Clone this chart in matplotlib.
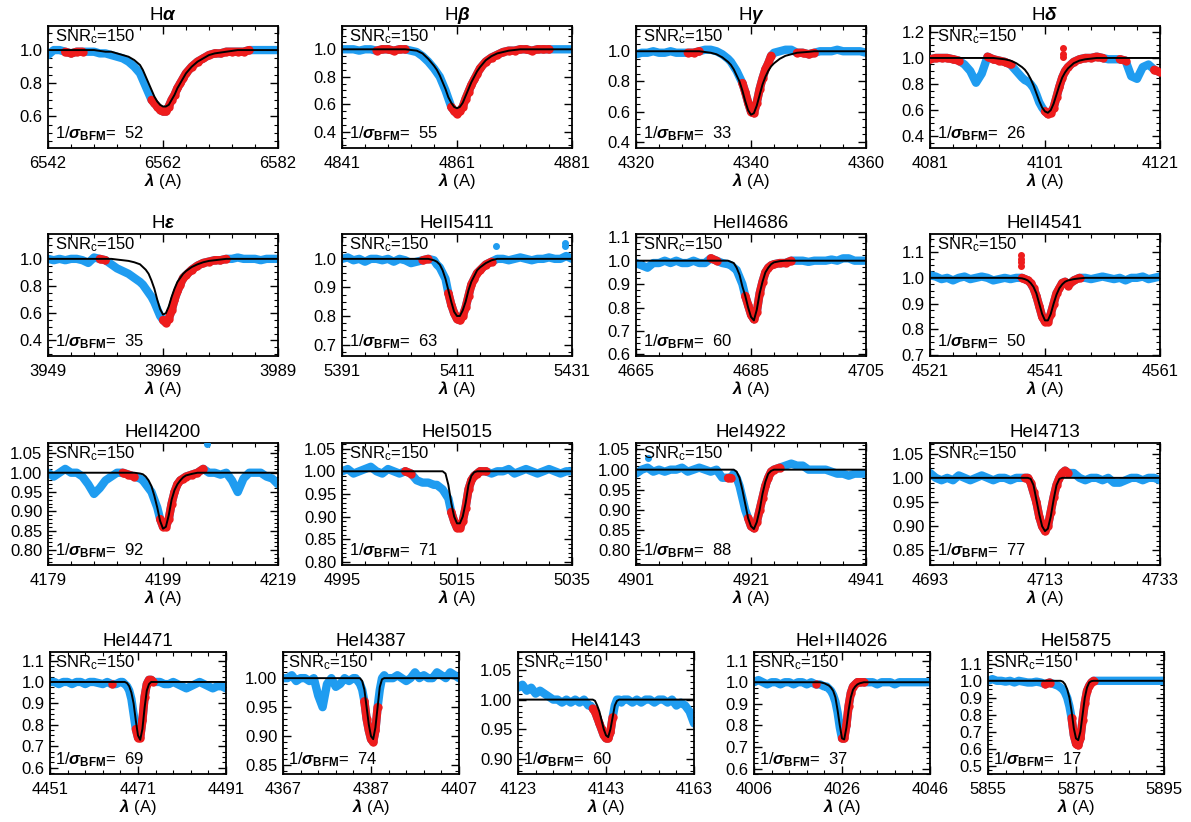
import numpy as np
import matplotlib.pyplot as plt
from matplotlib.ticker import AutoMinorLocator

plt.rcParams['font.family'] = ['Liberation Sans', 'DejaVu Sans']
plt.rcParams['mathtext.fontset'] = 'custom'
plt.rcParams['mathtext.rm'] = 'Liberation Sans'
plt.rcParams['mathtext.it'] = 'Liberation Sans:italic:bold'
plt.rcParams['mathtext.bf'] = 'Liberation Sans:bold'

BLUE = '#1f9cf0'
RED = '#ee1c1c'

# wavelength offsets from the central tick (A): wings 1 A, core 0.5 A
offsets = [-20, -19, -18, -17, -16, -15, -14, -13, -12, -11, -10, -9, -8, -7, -6, -5, -4,
           -3.5, -3, -2.5, -2, -1.5, -1, -0.5, 0, 0.5, 1, 1.5, 2, 2.5, 3, 3.5, 4,
           5, 6, 7, 8, 9, 10, 11, 12, 13, 14, 15, 16, 17, 18, 19, 20]

# ---- Halpha
ha_obs = [0.97, 1.00, 1.00, 0.99, 0.98, 0.99, 0.99, 0.99, 0.99, 0.98, 0.98, 0.97, 0.96, 0.95, 0.93, 0.90, 0.86,
          0.82, 0.78, 0.74, 0.70, 0.68, 0.66, 0.64, 0.63, 0.63, 0.66, 0.70, 0.73, 0.77, 0.80, 0.83, 0.86,
          0.90, 0.93, 0.95, 0.97, 0.98, 0.98, 0.99, 0.99, 0.99, 0.99, 1.00, 1.00, 1.00, 1.00, 1.00, 1.00]
ha_mod = [1.00, 1.00, 1.00, 1.00, 1.00, 1.00, 1.00, 1.00, 1.00, 0.995, 0.99, 0.99, 0.98, 0.97, 0.96, 0.94, 0.91,
          0.88, 0.84, 0.80, 0.76, 0.72, 0.69, 0.67, 0.66, 0.66, 0.67, 0.70, 0.73, 0.77, 0.80, 0.83, 0.86,
          0.90, 0.93, 0.95, 0.97, 0.98, 0.985, 0.99, 0.995, 1.00, 1.00, 1.00, 1.00, 1.00, 1.00, 1.00, 1.00]
ha_red = [(-17.4, -13.6), (-2.0, 15.0)]

# ---- Hbeta
hb_obs = [1.00, 1.00, 1.00, 0.99, 1.00, 1.00, 0.99, 1.00, 1.00, 0.99, 1.00, 1.00, 0.99, 0.98, 0.95, 0.91, 0.86,
          0.83, 0.80, 0.75, 0.70, 0.64, 0.58, 0.55, 0.53, 0.55, 0.58, 0.64, 0.69, 0.74, 0.78, 0.82, 0.86,
          0.91, 0.94, 0.96, 0.98, 0.99, 0.99, 1.00, 1.00, 0.99, 1.00, 1.00, 1.00, 1.00, 1.00, 1.00, 1.00]
hb_mod = [1.00, 1.00, 1.00, 1.00, 1.00, 1.00, 1.00, 1.00, 1.00, 1.00, 1.00, 1.00, 0.995, 0.99, 0.97, 0.93, 0.88,
          0.85, 0.81, 0.76, 0.71, 0.65, 0.61, 0.58, 0.57, 0.58, 0.61, 0.66, 0.71, 0.76, 0.80, 0.84, 0.87,
          0.92, 0.95, 0.97, 0.98, 0.99, 0.995, 1.00, 1.00, 1.00, 1.00, 1.00, 1.00, 1.00, 1.00, 1.00, 1.00]
hb_red = [(-14.9, -8.8), (-1.3, 16.6)]

# ---- Hgamma
hg_obs = [0.98, 0.99, 0.99, 1.00, 0.99, 0.99, 1.00, 0.99, 0.99, 0.99, 0.99, 1.00, 1.01, 1.01, 1.00, 0.98, 0.95,
          0.93, 0.90, 0.87, 0.83, 0.79, 0.73, 0.66, 0.60, 0.59, 0.66, 0.75, 0.82, 0.88, 0.92, 0.97, 0.99,
          1.00, 1.01, 1.01, 0.99, 0.99, 0.98, 0.99, 1.00, 1.00, 1.00, 1.01, 1.00, 1.00, 1.00, 1.00, 0.99]
hg_mod = [1.00, 1.00, 1.00, 1.00, 1.00, 1.00, 1.00, 1.00, 1.00, 1.00, 1.00, 1.00, 0.995, 0.99, 0.98, 0.96, 0.93,
          0.91, 0.88, 0.84, 0.80, 0.74, 0.67, 0.61, 0.58, 0.59, 0.64, 0.71, 0.78, 0.83, 0.87, 0.90, 0.92,
          0.95, 0.97, 0.98, 0.99, 0.993, 0.996, 1.00, 1.00, 1.00, 1.00, 1.00, 1.00, 1.00, 1.00, 1.00, 1.00]
hg_red = [(-11.9, -8.4), (-1.7, 3.5), (7.3, 11.4)]

# ---- Hdelta
hd_obs = [0.99, 1.00, 1.00, 1.00, 0.99, 0.98, 0.95, 0.90, 0.81, 0.88, 1.01, 0.99, 0.98, 0.97, 0.95, 0.90, 0.85,
          0.83, 0.82, 0.80, 0.77, 0.72, 0.66, 0.62, 0.59, 0.57, 0.58, 0.62, 0.70, 0.78, 0.85, 0.90, 0.93,
          0.97, 0.99, 1.00, 1.00, 1.01, 1.00, 0.99, 0.99, 0.99, 0.98, 0.86, 0.84, 0.93, 0.95, 0.91, 0.89]
hd_mod = [1.00, 1.00, 1.00, 1.00, 1.00, 1.00, 1.00, 1.00, 1.00, 1.00, 1.00, 1.00, 0.995, 0.99, 0.98, 0.96, 0.93,
          0.91, 0.88, 0.84, 0.79, 0.73, 0.67, 0.62, 0.59, 0.58, 0.60, 0.65, 0.72, 0.79, 0.85, 0.89, 0.92,
          0.96, 0.98, 0.99, 0.995, 1.00, 1.00, 1.00, 1.00, 1.00, 1.00, 1.00, 1.00, 1.00, 1.00, 1.00, 1.00]
hd_red = [(-20, -14.5), (-10.1, -5.5), (0, 10.8), (12.6, 14.9), (18.4, 20)]
hd_spikes = [(3.1, 1.08), (3.1, 1.03), (3.1, 1.01)]

# ---- Hepsilon
he_obs = [1.00, 0.99, 1.00, 0.99, 1.00, 1.00, 0.99, 0.97, 1.01, 1.00, 0.99, 0.96, 0.93, 0.91, 0.89, 0.86, 0.83,
          0.81, 0.78, 0.75, 0.72, 0.68, 0.63, 0.58, 0.55, 0.53, 0.56, 0.62, 0.70, 0.76, 0.81, 0.86, 0.88,
          0.92, 0.95, 0.97, 0.98, 0.99, 0.99, 1.00, 1.00, 1.01, 1.00, 1.00, 1.00, 0.99, 1.00, 1.00, 1.00]
he_mod = [1.00, 1.00, 1.00, 1.00, 1.00, 1.00, 1.00, 1.00, 1.00, 1.00, 1.00, 1.00, 0.995, 0.99, 0.985, 0.975, 0.96,
          0.94, 0.92, 0.89, 0.84, 0.78, 0.70, 0.63, 0.59, 0.60, 0.65, 0.72, 0.78, 0.83, 0.86, 0.89, 0.91,
          0.94, 0.96, 0.975, 0.985, 0.99, 0.995, 1.00, 1.00, 1.00, 1.00, 1.00, 1.00, 1.00, 1.00, 1.00, 1.00]
he_red = [(-11, -9.3), (-0.3, 11.6)]

# ---- HeII 5411
h5411_obs = [1.00, 1.005, 0.995, 1.00, 0.99, 1.00, 1.00, 0.995, 1.00, 0.99, 1.00, 0.995, 0.985, 0.99, 0.995, 1.00, 0.995,
             0.98, 0.97, 0.95, 0.93, 0.88, 0.84, 0.81, 0.79, 0.785, 0.80, 0.83, 0.87, 0.91, 0.93, 0.95, 0.96,
             0.98, 0.99, 1.00, 1.00, 0.995, 1.00, 1.005, 1.00, 0.995, 1.00, 1.00, 1.005, 1.00, 1.00, 1.01, 1.00]
h5411_mod = [1.00, 1.00, 1.00, 1.00, 1.00, 1.00, 1.00, 1.00, 1.00, 1.00, 1.00, 1.00, 1.00, 1.00, 1.00, 1.00, 0.995,
             0.99, 0.98, 0.96, 0.93, 0.89, 0.85, 0.815, 0.80, 0.80, 0.82, 0.85, 0.89, 0.92, 0.94, 0.96, 0.97,
             0.985, 0.995, 1.00, 1.00, 1.00, 1.00, 1.00, 1.00, 1.00, 1.00, 1.00, 1.00, 1.00, 1.00, 1.00, 1.00]
h5411_red = [(-6.2, -4.2), (-1.9, 6.8)]
h5411_spikes = [(6.8, 1.045), (18.7, 1.055), (18.7, 1.045)]

# ---- HeII 4686
h4686_obs = [0.99, 0.98, 0.97, 0.99, 0.99, 1.00, 0.99, 1.00, 0.99, 0.99, 1.00, 0.99, 0.99, 1.01, 1.00, 0.99, 0.985,
             0.98, 0.97, 0.96, 0.93, 0.90, 0.85, 0.81, 0.77, 0.75, 0.78, 0.86, 0.91, 0.95, 0.97, 0.98, 0.985,
             0.99, 0.99, 1.00, 1.00, 1.00, 0.995, 1.00, 1.00, 1.00, 1.005, 1.00, 1.01, 1.01, 1.00, 1.00, 1.00]
h4686_mod = [1.00, 1.00, 1.00, 1.00, 1.00, 1.00, 1.00, 1.00, 1.00, 1.00, 1.00, 1.00, 1.00, 1.00, 1.00, 1.00, 1.00,
             0.995, 0.99, 0.97, 0.94, 0.89, 0.85, 0.80, 0.76, 0.745, 0.79, 0.86, 0.91, 0.95, 0.97, 0.985, 0.993,
             0.998, 1.00, 1.00, 1.00, 1.00, 1.00, 1.00, 1.00, 1.00, 1.00, 1.00, 1.00, 1.00, 1.00, 1.00, 1.00]
h4686_red = [(-7.4, -5.9), (-1.3, 7.7)]

# ---- HeII 4541
h4541_obs = [1.01, 1.005, 0.995, 1.00, 0.99, 1.00, 1.005, 0.995, 1.00, 1.005, 1.00, 0.99, 0.995, 1.00, 0.995, 1.00, 1.00,
             0.995, 0.99, 0.98, 0.96, 0.93, 0.89, 0.85, 0.83, 0.83, 0.86, 0.90, 0.94, 0.96, 0.98, 0.985, 0.97,
             0.99, 1.00, 1.00, 0.995, 1.00, 1.005, 1.00, 0.995, 1.00, 0.99, 1.00, 1.00, 1.005, 0.995, 1.00, 1.005]
h4541_mod = [1.00, 1.00, 1.00, 1.00, 1.00, 1.00, 1.00, 1.00, 1.00, 1.00, 1.00, 1.00, 1.00, 1.00, 1.00, 1.00, 0.998,
             0.995, 0.99, 0.98, 0.965, 0.94, 0.90, 0.86, 0.835, 0.835, 0.86, 0.90, 0.935, 0.96, 0.975, 0.985, 0.99,
             0.995, 0.998, 1.00, 1.00, 1.00, 1.00, 1.00, 1.00, 1.00, 1.00, 1.00, 1.00, 1.00, 1.00, 1.00, 1.00]
h4541_red = [(-4.6, 6.4)]
h4541_spikes = [(-4.1, 1.09), (-4.1, 1.075), (-4.1, 1.06), (-4.1, 1.045)]

# ---- HeII 4200
h4200_obs = [1.00, 0.99, 1.00, 1.01, 1.00, 1.00, 0.99, 0.97, 0.945, 0.96, 0.98, 0.99, 1.00, 1.00, 0.995, 0.99, 0.985,
             0.98, 0.97, 0.96, 0.95, 0.93, 0.91, 0.88, 0.86, 0.86, 0.88, 0.92, 0.95, 0.97, 0.98, 0.985, 0.99,
             0.995, 1.00, 1.01, 1.00, 1.00, 0.995, 1.00, 0.98, 0.95, 0.985, 1.00, 1.00, 1.00, 0.99, 0.985, 0.97]
h4200_mod = [1.00, 1.00, 1.00, 1.00, 1.00, 1.00, 1.00, 1.00, 1.00, 1.00, 1.00, 1.00, 1.00, 1.00, 1.00, 1.00, 0.998,
             0.996, 0.99, 0.98, 0.965, 0.94, 0.91, 0.875, 0.855, 0.86, 0.89, 0.93, 0.955, 0.97, 0.98, 0.988, 0.993,
             0.997, 1.00, 1.00, 1.00, 1.00, 1.00, 1.00, 1.00, 1.00, 1.00, 1.00, 1.00, 1.00, 1.00, 1.00, 1.00]
h4200_red = [(-7.4, -5.0), (-0.7, 7.2)]
h4200_spikes = [(7.7, 1.075)]

# ---- HeI 5015
h5015_obs = [1.00, 1.005, 0.995, 1.00, 1.005, 1.01, 1.00, 0.995, 1.005, 1.00, 0.995, 1.00, 0.995, 0.98, 0.975, 0.975, 0.97,
             0.97, 0.965, 0.96, 0.95, 0.94, 0.91, 0.89, 0.875, 0.875, 0.89, 0.92, 0.96, 0.98, 0.99, 0.995, 1.00,
             1.00, 0.995, 1.00, 1.00, 1.005, 0.995, 1.00, 1.005, 1.00, 0.995, 1.00, 1.005, 1.00, 0.995, 1.00, 1.00]
h5015_mod = [1.00, 1.00, 1.00, 1.00, 1.00, 1.00, 1.00, 1.00, 1.00, 1.00, 1.00, 1.00, 1.00, 1.00, 1.00, 1.00, 1.00,
             1.00, 1.00, 1.00, 0.995, 0.97, 0.93, 0.90, 0.885, 0.885, 0.90, 0.93, 0.97, 0.99, 0.998, 1.00, 1.00,
             1.00, 1.00, 1.00, 1.00, 1.00, 1.00, 1.00, 1.00, 1.00, 1.00, 1.00, 1.00, 1.00, 1.00, 1.00, 1.00]
h5015_red = [(-9.7, -7.7), (-1.0, 5.6)]

# ---- HeI 4922
h4922_obs = [0.99, 1.00, 1.005, 0.995, 1.00, 0.995, 1.00, 1.00, 1.005, 0.995, 1.00, 1.005, 1.00, 0.995, 1.00, 0.98, 0.98,
             0.98, 0.99, 0.98, 0.96, 0.93, 0.90, 0.88, 0.86, 0.855, 0.87, 0.90, 0.93, 0.96, 0.98, 0.995, 1.00,
             1.005, 1.01, 1.015, 1.01, 1.01, 1.00, 1.00, 1.00, 1.00, 0.995, 0.99, 0.99, 0.985, 0.99, 0.99, 0.99]
h4922_mod = [1.00, 1.00, 1.00, 1.00, 1.00, 1.00, 1.00, 1.00, 1.00, 1.00, 1.00, 1.00, 1.00, 1.00, 1.00, 1.00, 1.00,
             1.00, 1.00, 0.995, 0.98, 0.95, 0.915, 0.88, 0.86, 0.853, 0.87, 0.90, 0.94, 0.97, 0.99, 0.997, 1.00,
             1.00, 1.00, 1.00, 1.00, 1.00, 1.00, 1.00, 1.00, 1.00, 1.00, 1.00, 1.00, 1.00, 1.00, 1.00, 1.00]
h4922_red = [(-4.8, -3.3), (-0.8, 5.6)]
h4922_spikes = [(-18, 1.03)]

# ---- HeI 4713
h4713_obs = [1.01, 1.00, 0.995, 1.00, 0.995, 1.005, 1.00, 0.995, 1.00, 1.005, 1.00, 0.995, 1.00, 1.00, 0.995, 1.00, 1.00,
             1.00, 1.00, 0.99, 0.97, 0.95, 0.92, 0.90, 0.89, 0.90, 0.93, 0.96, 0.985, 1.00, 1.01, 1.015, 1.01,
             1.01, 1.00, 0.995, 1.00, 1.00, 0.995, 1.00, 0.99, 0.99, 0.995, 1.00, 1.00, 0.995, 1.00, 1.00, 0.995]
h4713_mod = [1.00, 1.00, 1.00, 1.00, 1.00, 1.00, 1.00, 1.00, 1.00, 1.00, 1.00, 1.00, 1.00, 1.00, 1.00, 1.00, 1.00,
             1.00, 1.00, 0.998, 0.985, 0.955, 0.925, 0.90, 0.89, 0.895, 0.92, 0.955, 0.985, 0.998, 1.00, 1.00, 1.00,
             1.00, 1.00, 1.00, 1.00, 1.00, 1.00, 1.00, 1.00, 1.00, 1.00, 1.00, 1.00, 1.00, 1.00, 1.00, 1.00]
h4713_red = [(-3.5, 4.3)]

# ---- HeI 4471
h4471_obs = [1.00, 1.00, 0.99, 1.00, 1.00, 0.99, 1.00, 1.00, 0.99, 1.00, 1.00, 0.995, 0.99, 1.00, 0.99, 0.99, 1.00,
             1.00, 0.99, 0.98, 0.96, 0.92, 0.85, 0.78, 0.74, 0.74, 0.82, 0.93, 0.99, 1.01, 1.01, 1.00, 1.00,
             1.00, 0.99, 0.99, 1.00, 0.99, 0.98, 0.97, 0.98, 0.99, 1.00, 0.99, 0.98, 0.97, 0.98, 0.98, 0.97]
h4471_mod = [1.00, 1.00, 1.00, 1.00, 1.00, 1.00, 1.00, 1.00, 1.00, 1.00, 1.00, 1.00, 1.00, 1.00, 1.00, 1.00, 1.00,
             1.00, 1.00, 0.995, 0.98, 0.95, 0.90, 0.82, 0.75, 0.73, 0.78, 0.88, 0.96, 0.99, 1.00, 1.00, 1.00,
             1.00, 1.00, 1.00, 1.00, 1.00, 1.00, 1.00, 1.00, 1.00, 1.00, 1.00, 1.00, 1.00, 1.00, 1.00, 1.00]
h4471_red = [(-6.5, -5.5), (-0.5, 3.5)]

# ---- HeI 4387
h4387_obs = [1.00, 1.00, 1.005, 0.995, 1.00, 1.00, 0.995, 1.00, 0.97, 0.95, 0.99, 1.00, 0.985, 0.99, 1.00, 0.995, 1.00,
             1.00, 0.995, 0.99, 0.98, 0.96, 0.93, 0.91, 0.895, 0.89, 0.91, 0.95, 0.98, 1.00, 1.005, 1.00, 1.00,
             1.00, 1.005, 1.00, 0.995, 1.00, 1.01, 1.00, 1.005, 1.00, 1.00, 1.01, 1.005, 1.00, 1.01, 1.005, 1.00]
h4387_mod = [1.00, 1.00, 1.00, 1.00, 1.00, 1.00, 1.00, 1.00, 1.00, 1.00, 1.00, 1.00, 1.00, 1.00, 1.00, 1.00, 1.00,
             1.00, 1.00, 1.00, 0.995, 0.98, 0.95, 0.92, 0.90, 0.895, 0.915, 0.95, 0.985, 0.998, 1.00, 1.00, 1.00,
             1.00, 1.00, 1.00, 1.00, 1.00, 1.00, 1.00, 1.00, 1.00, 1.00, 1.00, 1.00, 1.00, 1.00, 1.00, 1.00]
h4387_red = [(-1.5, 1.5)]

# ---- HeI 4143
h4143_obs = [1.02, 1.025, 1.015, 1.02, 1.01, 1.015, 1.01, 1.005, 1.00, 1.00, 0.995, 1.00, 0.995, 1.00, 0.995, 1.00, 0.99,
             0.99, 0.985, 0.98, 0.97, 0.96, 0.95, 0.94, 0.935, 0.935, 0.945, 0.97, 0.99, 1.00, 1.00, 0.995, 1.00,
             1.00, 0.995, 1.00, 0.995, 1.00, 1.00, 0.995, 1.00, 1.00, 0.995, 1.00, 0.99, 0.995, 0.99, 0.98, 0.96]
h4143_mod = [1.00, 1.00, 1.00, 1.00, 1.00, 1.00, 1.00, 1.00, 1.00, 1.00, 1.00, 1.00, 1.00, 1.00, 1.00, 1.00, 1.00,
             1.00, 1.00, 0.998, 0.99, 0.98, 0.965, 0.95, 0.94, 0.937, 0.95, 0.97, 0.99, 0.998, 1.00, 1.00, 1.00,
             1.00, 1.00, 1.00, 1.00, 1.00, 1.00, 1.00, 1.00, 1.00, 1.00, 1.00, 1.00, 1.00, 1.00, 1.00, 1.00]
h4143_red = [(-3.0, 1.5)]

# ---- HeI+II 4026
h4026_obs = [1.00, 1.01, 1.00, 0.99, 1.00, 1.00, 0.99, 1.00, 1.00, 0.99, 1.00, 1.00, 0.99, 1.00, 0.99, 0.99, 0.98,
             0.98, 0.97, 0.96, 0.94, 0.91, 0.86, 0.79, 0.74, 0.74, 0.80, 0.89, 0.95, 0.98, 0.99, 1.00, 1.00,
             1.00, 1.00, 1.00, 0.99, 1.00, 1.00, 1.00, 0.99, 1.00, 1.00, 1.00, 1.00, 1.00, 1.00, 1.00, 1.00]
h4026_mod = [1.00, 1.00, 1.00, 1.00, 1.00, 1.00, 1.00, 1.00, 1.00, 1.00, 1.00, 1.00, 1.00, 1.00, 1.00, 1.00, 0.995,
             0.99, 0.985, 0.975, 0.96, 0.93, 0.87, 0.80, 0.74, 0.735, 0.79, 0.87, 0.93, 0.965, 0.98, 0.99, 0.995,
             1.00, 1.00, 1.00, 1.00, 1.00, 1.00, 1.00, 1.00, 1.00, 1.00, 1.00, 1.00, 1.00, 1.00, 1.00, 1.00]
h4026_red = [(-6.5, -5.5), (0.0, 5.5)]

# ---- HeI 5875
h5875_obs = [1.00, 1.01, 1.00, 1.00, 0.995, 1.00, 0.99, 1.00, 0.995, 0.99, 0.99, 0.995, 0.99, 0.98, 0.99, 0.98, 0.97,
             0.96, 0.95, 0.93, 0.90, 0.85, 0.78, 0.68, 0.63, 0.62, 0.66, 0.77, 0.87, 0.94, 0.97, 0.99, 1.00,
             1.00, 1.00, 1.00, 1.00, 1.00, 1.00, 1.00, 1.00, 1.00, 1.00, 1.00, 1.00, 1.00, 1.00, 1.00, 1.00]
h5875_mod = [1.00, 1.00, 1.00, 1.00, 1.00, 1.00, 1.00, 1.00, 1.00, 1.00, 1.00, 1.00, 1.00, 1.00, 1.00, 1.00, 1.00,
             1.00, 0.995, 0.98, 0.95, 0.90, 0.82, 0.72, 0.66, 0.65, 0.70, 0.80, 0.90, 0.96, 0.99, 0.998, 1.00,
             1.00, 1.00, 1.00, 1.00, 1.00, 1.00, 1.00, 1.00, 1.00, 1.00, 1.00, 1.00, 1.00, 1.00, 1.00, 1.00]
h5875_red = [(-7.0, -6.0), (-1.0, 4.0)]

# title, centre, obs, model, red ranges, spikes (offset, flux, colour), y range, y ticks, 1/sigma
panels = [
    (r'H$\alpha$', 6562, ha_obs, ha_mod, ha_red, [], (0.41, 1.145), [0.6, 0.8, 1.0], 52),
    (r'H$\beta$', 4861, hb_obs, hb_mod, hb_red, [], (0.28, 1.17), [0.4, 0.6, 0.8, 1.0], 55),
    (r'H$\gamma$', 4340, hg_obs, hg_mod, hg_red, [], (0.36, 1.167), [0.4, 0.6, 0.8, 1.0], 33),
    (r'H$\delta$', 4101, hd_obs, hd_mod, hd_red, [(o, f, RED) for o, f in hd_spikes],
     (0.31, 1.245), [0.4, 0.6, 0.8, 1.0, 1.2], 26),
    (r'H$\epsilon$', 3969, he_obs, he_mod, he_red, [], (0.285, 1.183), [0.4, 0.6, 0.8, 1.0], 35),
    ('HeII5411', 5411, h5411_obs, h5411_mod, h5411_red, [(o, f, BLUE) for o, f in h5411_spikes],
     (0.66, 1.087), [0.7, 0.8, 0.9, 1.0], 63),
    ('HeII4686', 4685, h4686_obs, h4686_mod, h4686_red, [], (0.593, 1.114), [0.6, 0.7, 0.8, 0.9, 1.0, 1.1], 60),
    ('HeII4541', 4541, h4541_obs, h4541_mod, h4541_red, [(o, f, RED) for o, f in h4541_spikes],
     (0.697, 1.17), [0.7, 0.8, 0.9, 1.0, 1.1], 50),
    ('HeII4200', 4199, h4200_obs, h4200_mod, h4200_red, [(o, f, BLUE) for o, f in h4200_spikes],
     (0.761, 1.077), [0.80, 0.85, 0.90, 0.95, 1.00, 1.05], 92),
    ('HeI5015', 5015, h5015_obs, h5015_mod, h5015_red, [], (0.793, 1.0625), [0.80, 0.85, 0.90, 0.95, 1.00, 1.05], 71),
    ('HeI4922', 4921, h4922_obs, h4922_mod, h4922_red, [(o, f, BLUE) for o, f in h4922_spikes],
     (0.764, 1.066), [0.80, 0.85, 0.90, 0.95, 1.00, 1.05], 88),
    ('HeI4713', 4713, h4713_obs, h4713_mod, h4713_red, [], (0.82, 1.072), [0.85, 0.90, 0.95, 1.00, 1.05], 77),
    ('HeI4471', 4471, h4471_obs, h4471_mod, h4471_red, [], (0.57, 1.14), [0.6, 0.7, 0.8, 0.9, 1.0, 1.1], 69),
    ('HeI4387', 4387, h4387_obs, h4387_mod, h4387_red, [], (0.835, 1.045), [0.85, 0.90, 0.95, 1.00], 74),
    ('HeI4143', 4143, h4143_obs, h4143_mod, h4143_red, [], (0.875, 1.08), [0.90, 0.95, 1.00, 1.05], 60),
    ('HeI+II4026', 4026, h4026_obs, h4026_mod, h4026_red, [], (0.575, 1.14), [0.6, 0.7, 0.8, 0.9, 1.0, 1.1], 37),
    ('HeI5875', 5875, h5875_obs, h5875_mod, h5875_red, [], (0.45, 1.17), [0.5, 0.6, 0.7, 0.8, 0.9, 1.0, 1.1], 17),
]

# axes boxes in pixels (left, top, width, height) of the 1191x822 figure
W, H = 1191, 822
boxes = []
for top in [26, 234, 443]:
    for left in [48, 342, 636, 930]:
        boxes.append((left, top, 230, 122))
for left in [50, 283, 518, 754, 988]:
    boxes.append((left, 652, 176, 122))

fig = plt.figure(figsize=(W / 100, H / 100), dpi=100)
off = np.array(offsets)

for (title, c, obs, mod, red, spikes, ylim, yt, sig), (l, t, w, h) in zip(panels, boxes):
    ax = fig.add_axes([l / W, 1 - (t + h) / H, w / W, h / H])
    lam = c + off
    obs = np.array(obs)
    ax.plot(lam, obs, color=BLUE, lw=6, solid_joinstyle='round', solid_capstyle='round', zorder=2)
    for lo, hi in red:
        m = (off >= lo) & (off <= hi)
        ax.plot(lam[m], obs[m], color=RED, lw=6, marker='o', ms=5, solid_joinstyle='round',
                solid_capstyle='round', zorder=3)
    for o, f, col in spikes:
        ax.plot(c + o, f, 'o', color=col, ms=4, zorder=3)
    ax.plot(lam, mod, color='black', lw=1.4, zorder=4)

    ax.set_xlim(c - 20, c + 20)
    ax.set_ylim(*ylim)
    ax.set_xticks([c - 20, c, c + 20])
    ax.set_yticks(yt)
    if yt[1] - yt[0] < 0.06:
        ax.set_yticklabels(['%.2f' % v for v in yt])
        ax.yaxis.set_minor_locator(AutoMinorLocator(5))
    else:
        ax.set_yticklabels(['%.1f' % v for v in yt])
        ax.yaxis.set_minor_locator(AutoMinorLocator(4))
    ax.xaxis.set_minor_locator(AutoMinorLocator(5))
    ax.tick_params(which='both', direction='in', top=True, right=True, labelsize=12)
    ax.tick_params(which='major', length=6, width=1)
    ax.tick_params(which='minor', length=3, width=0.8)
    ax.tick_params(axis='x', pad=6)
    ax.tick_params(axis='y', pad=4)
    for s in ax.spines.values():
        s.set_linewidth(1.3)

    ax.set_title(title, fontsize=13.5, pad=4)
    ax.set_xlabel(r'$\lambda$ (A)', fontsize=12, labelpad=0)
    ax.text(0.03, 0.99, r'SNR$_\mathrm{c}$=150', transform=ax.transAxes, ha='left', va='top', fontsize=12)
    ax.text(0.03, 0.04, r'1/$\sigma_\mathbf{BFM}$=  %d' % sig, transform=ax.transAxes,
            ha='left', va='bottom', fontsize=12)

fig.savefig('out.png', dpi=100)
